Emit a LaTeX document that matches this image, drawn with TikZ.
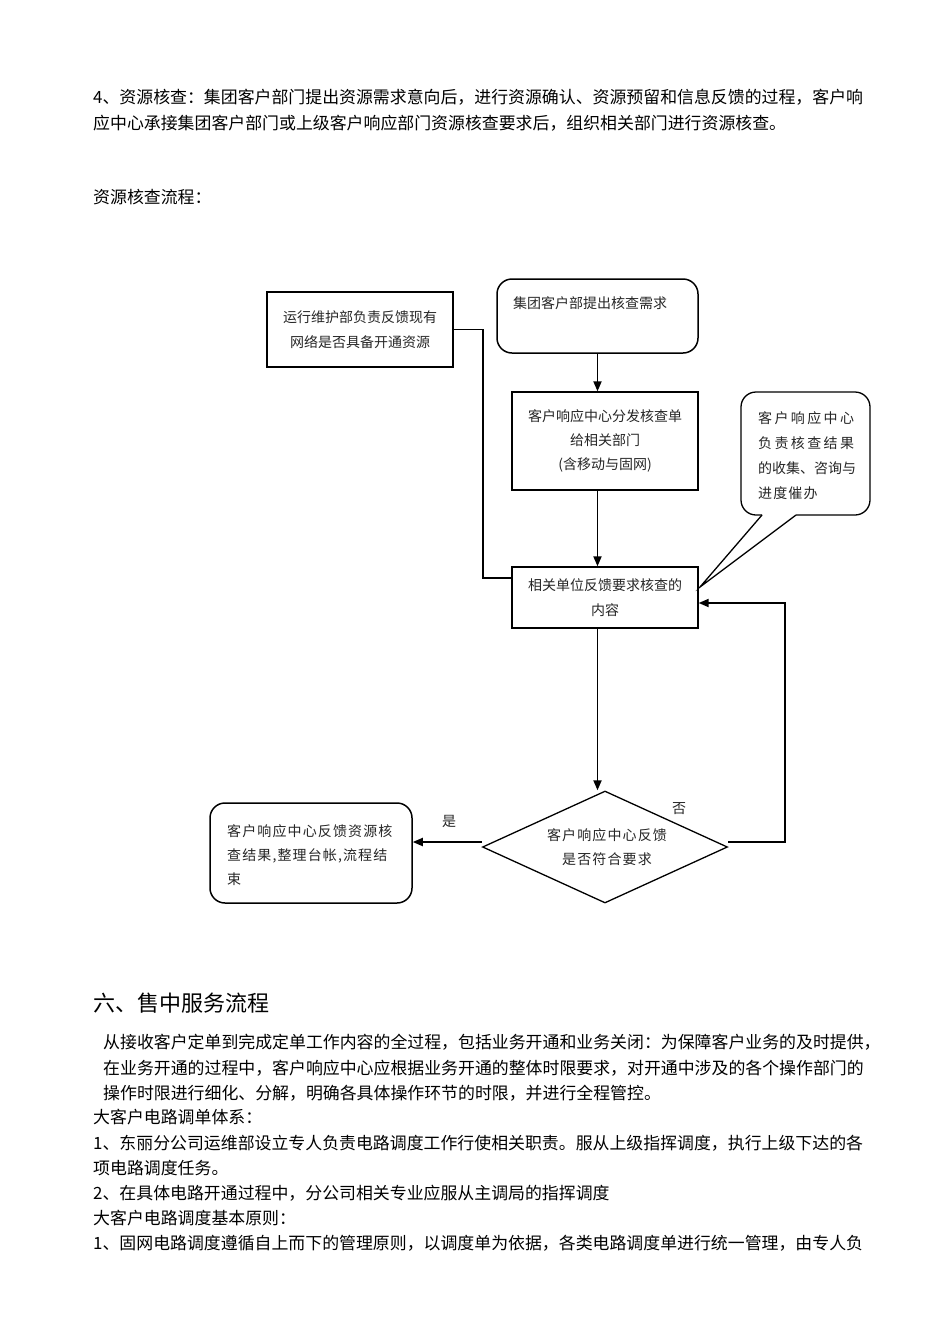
\documentclass[tikz,border=0pt]{standalone}
\usepackage{fontspec}
\newfontfamily\cjk{Noto Sans CJK SC}
\newfontfamily\cjkwide[LetterSpace=17]{Noto Sans CJK SC}
\newfontfamily\cjkmid[LetterSpace=8]{Noto Sans CJK SC}
\usetikzlibrary{arrows.meta,shapes.geometric}
\begin{document}
\begin{tikzpicture}[x=1pt,y=-1pt,
  body/.style={anchor=west,inner sep=0pt,font=\cjk\fontsize{16.9pt}{20pt}\selectfont},
  ftext/.style={inner sep=0pt,text=black!85,font=\cjk\fontsize{14pt}{25pt}\selectfont},
  box/.style={draw,line width=1.3pt,inner sep=0pt},
  conn/.style={line width=1.8pt},
  arr/.style={line width=1.8pt,-{Triangle[length=10pt,width=8pt]}}]
\fill[white] (0,0) rectangle (950,1344);
\useasboundingbox (0,0) rectangle (950,1344);

% top text
\node[body] (t1) at (93,97) {4、资源核查：集团客户部门提出资源需求意向后，进行资源确认、资源预留和信息反馈的过程，客户响};
\node[body] (t2) at (93,123) {应中心承接集团客户部门或上级客户响应部门资源核查要求后，组织相关部门进行资源核查。};
\node[body] (t3) at (93,197) {资源核查流程：};

% flowchart boxes
\node[box,line width=1.9pt,minimum width=186pt,minimum height=75pt,ftext,align=center] (A) at (360,329.5) {运行维护部负责反馈现有\\网络是否具备开通资源};
\node[box,line width=1.5pt,rounded corners=15pt,minimum width=201pt,minimum height=74pt] (B) at (597.5,316) {};
\node[ftext,anchor=west] (Bt) at (513,303) {集团客户部提出核查需求};
\node[box,minimum width=186pt,minimum height=98pt,ftext,align=center,font=\cjk\fontsize{14pt}{24pt}\selectfont] (C) at (605,441) {客户响应中心分发核查单\\给相关部门\\(含移动与固网)};
\node[box,minimum width=186pt,minimum height=61pt,ftext,align=center] (D) at (605,597.5) {相关单位反馈要求核查的\\内容};

% callout
\coordinate (tip) at (700,587);
\draw[line width=1.3pt,rounded corners=15pt] (762,515) -- (741,515) -- (741,392) -- (870,392) -- (870,515) -- (796,515);
\draw[line width=1.3pt] (762,515) -- (tip) -- (796,515);
\node[ftext,anchor=west,align=left] (Et) at (758,455.5) {{\cjkwide 客户响应中心}\\{\cjkwide 负责核查结果}\\的收集、咨询与\\{\cjkmid 进度催办}};

% decision
\node[draw,diamond,line width=1.3pt,inner sep=0pt,minimum width=245pt,minimum height=112pt] (F) at (605,847) {};
\node[ftext,align=center,font=\cjkmid\fontsize{14pt}{24pt}\selectfont] (Ft) at (607,847) {客户响应中心反馈\\是否符合要求};

% end box
\node[box,line width=1.5pt,rounded corners=15pt,minimum width=202pt,minimum height=100pt] (G) at (311,853) {};
\node[ftext,anchor=west,align=left,font=\cjkmid\fontsize{14pt}{24pt}\selectfont] (Gt) at (227,855.5) {客户响应中心反馈资源核\\查结果,整理台帐,流程结\\束};

\node[ftext] (yes) at (449,821) {是};
\node[ftext] (no) at (679,809) {否};

% connectors
\coordinate (j1) at (483,578);
\draw[conn] (A.east) -| (j1) -- (j1 -| D.west);
\draw[arr] (B.south) -- (B.south |- C.north);
\draw[arr] (B.south |- C.south) -- (B.south |- D.north);
\draw[arr] (B.south |- D.south) -- (B.south |- F.north);
\coordinate (j2) at (785,603);
\draw[arr] ([yshift=5pt]F.east) -| (j2) -- (j2 -| D.east);
\draw[arr] ([yshift=5pt]F.west) -- ([yshift=5pt]F.west -| G.east);

% bottom text
\node[body,font=\cjk\fontsize{22pt}{26pt}\selectfont] (h6) at (93,1003) {六、售中服务流程};
\node[body] (p1) at (103,1042) {从接收客户定单到完成定单工作内容的全过程，包括业务开通和业务关闭：为保障客户业务的及时提供，};
\node[body] (p2) at (103,1068) {在业务开通的过程中，客户响应中心应根据业务开通的整体时限要求，对开通中涉及的各个操作部门的};
\node[body] (p3) at (103,1093) {操作时限进行细化、分解，明确各具体操作环节的时限，并进行全程管控。};
\node[body] (p4) at (93,1117) {大客户电路调单体系：};
\node[body] (p5) at (93,1143) {1、东丽分公司运维部设立专人负责电路调度工作行使相关职责。服从上级指挥调度，执行上级下达的各};
\node[body] (p6) at (93,1168) {项电路调度任务。};
\node[body] (p7) at (93,1193) {2、在具体电路开通过程中，分公司相关专业应服从主调局的指挥调度};
\node[body] (p8) at (93,1218) {大客户电路调度基本原则：};
\node[body] (p9) at (93,1243) {1、固网电路调度遵循自上而下的管理原则，以调度单为依据，各类电路调度单进行统一管理，由专人负};
\end{tikzpicture}
\end{document}
